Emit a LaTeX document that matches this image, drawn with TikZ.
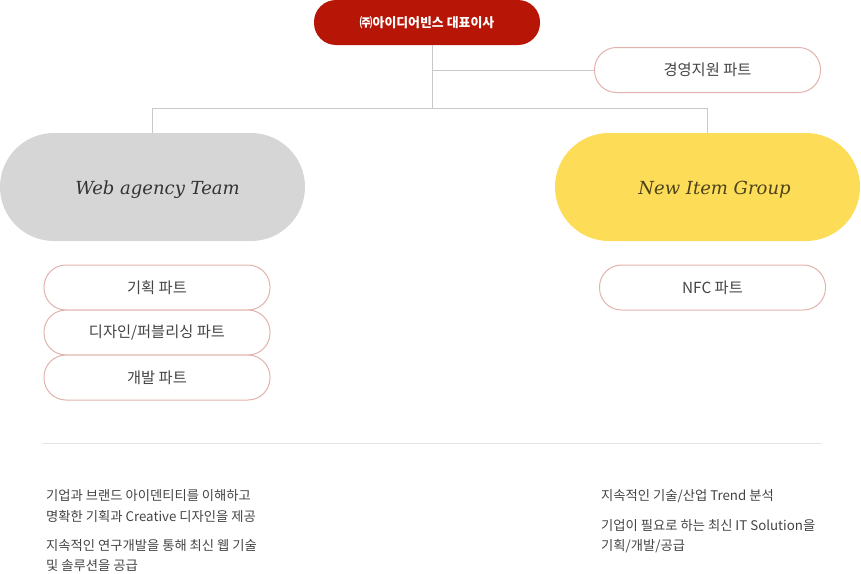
\documentclass[tikz,border=0pt]{standalone}
\usepackage{fontspec}
\setmainfont{Noto Sans CJK KR}
\newfontfamily\teamfont{DejaVu Serif}
\usepackage{tikz}
\usetikzlibrary{positioning, calc}
\definecolor{ceored}{HTML}{B71606}
\definecolor{partline}{HTML}{E2B3AD}
\definecolor{linkgray}{HTML}{C8C8C8}
\definecolor{webgray}{HTML}{D6D6D6}
\definecolor{nigyellow}{HTML}{FDDD58}
\definecolor{textgray}{HTML}{444444}

\begin{document}
\begin{tikzpicture}[x=1pt,y=-1pt]
      \tikzset{part box/.style={draw=partline,
          line width=1pt,
          fill=white,
          rounded corners=22pt,
          minimum width=226pt,
          minimum height=45pt,
          inner sep=0pt,
          text=textgray,
          font=\fontsize{15.3}{17}\selectfont},
        team box/.style={fill=#1,
          rounded corners=54pt,
          minimum width=305pt,
          minimum height=108pt,
          inner sep=0pt,
          font=\teamfont\itshape\fontsize{18}{20}\selectfont},
        link/.style={draw=linkgray, line width=1pt},
        desc/.style={anchor=west, inner sep=0pt, text=textgray,
          font=\fontsize{13.3}{15}\selectfont}
      }
      \useasboundingbox (0,0) rectangle (861,573);
      \node [fill=ceored, rounded corners=22pt, minimum width=226pt,
        minimum height=45pt, inner sep=0pt, text=white,
        font=\bfseries\fontsize{12.9}{15}\selectfont] (ceo) at (427,22.5) {㈜아이디어빈스 대표이사};
      \node [part box] (mgmt) at (707.5,70) {경영지원 파트};
      \node [team box=webgray, text=black!80] (web) at (152.5,187) {\raisebox{-7pt}[0pt][0pt]{\hspace*{10pt}Web agency Team}};
      \node [team box=nigyellow, text=black!70!nigyellow] (nig) at (707.5,187) {\raisebox{-7pt}[0pt][0pt]{\hspace*{14pt}New Item Group}};
      \node [part box] (plan) at (157,287.5) {기획 파트};
      \node [part box] (design) at (157,332.5) {디자인/퍼블리싱 파트};
      \node [part box] (dev) at (157,377.5) {개발 파트};
      \node [part box] (nfc) at (712.5,287.5) {NFC 파트};
      \coordinate (hub) at (432,108.5);
      \draw [link] (ceo.south -| hub) -- (hub);
      \draw [link] (ceo.south -| hub) |- (mgmt.west);
      \draw [link] (hub) -| (web.north);
      \draw [link] (hub) -| (nig.north);
      \draw [draw=black!10, line width=1pt] (42,443.5) coordinate (sepL) -- (822,443.5) coordinate (sepR);

      \node [desc] (w1) at (46,496) {기업과 브랜드 아이덴티티를 이해하고};
      \node [desc] (w2) at (46,516) {명확한 기획과 Creative 디자인을 제공};
      \node [desc] (w3) at (46,546) {지속적인 연구개발을 통해 최신 웹 기술};
      \node [desc] (w4) at (46,566) {및 솔루션을 공급};
      \node [desc] (n1) at (601,496) {지속적인 기술/산업 Trend 분석};
      \node [desc] (n2) at (601,526) {기업이 필요로 하는 최신 IT Solution을};
      \node [desc] (n3) at (601,546) {기획/개발/공급};

    \end{tikzpicture}
\end{document}
